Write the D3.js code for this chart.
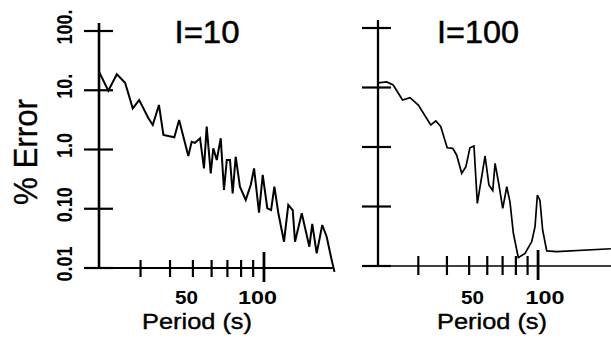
<!DOCTYPE html>
<html><head><meta charset="utf-8">
<script src="https://cdn.jsdelivr.net/npm/d3@7"></script>
<style>
html,body{margin:0;padding:0;background:#fff;}
svg{display:block;font-family:"Liberation Sans",Arial,Helvetica,sans-serif;}
</style></head>
<body>
<svg id="c" width="611" height="351"></svg>
<script>
// ---- data ----
const periodL = [20,21.9,23.8,25.8,27.8,29.6,32.4,33.8,35.9,37.5,41.7,43.7,47.8,49.4,51.0,53.6,55.7,57.2,59.5,61.0,63.1,65.6,67.7,69.6,71.8,73.7,75.9,79.1,83.7,87.9,90.8,95.3,98.8,103.3,107.2,110.7,115,121.6,126.8,132.4,135.4,144.6,155.7,160.2,167.3,176.6,184.4,193.6,199];
const errorL  = [20.6,9.8,18.6,13.4,4.96,6.84,3.36,2.59,5.64,1.76,1.61,3.15,0.776,1.35,1.29,1.55,0.48,2.43,0.396,1.05,0.665,1.55,0.207,0.665,0.665,0.182,0.755,0.236,0.141,0.252,0.48,0.0857,0.372,0.102,0.095,0.236,0.0857,0.0278,0.116,0.095,0.0278,0.0838,0.0229,0.0553,0.0177,0.0532,0.0337,0.0136,0.0086];
const periodR = [20,21.8,23.3,25.6,27.6,30.0,34.0,35.8,37.6,40.1,42.4,44.1,46.4,48.4,50.4,52.5,54.3,58.7,61.0,63.4,64.9,67.5,70.1,73.0,75.4,78.0,82.0,87.7,93.8,97.0,99.3,101.9,104.7,109.1,120.6,208];
const errorR  = [12.0,12.4,11.0,6.17,6.74,5.08,2.34,2.74,2.19,0.97,0.95,0.735,0.361,0.467,0.97,1.04,0.113,0.706,0.230,0.185,0.532,0.230,0.0933,0.215,0.120,0.0355,0.0138,0.0163,0.0256,0.0458,0.156,0.128,0.0403,0.0179,0.0174,0.0195];
const yTicks = [0.01,0.1,1,10,100];
const yTickLabels = ["0.01","0.10","1.0","10.","100."];
const xTicks = [30,40,50,60,70,80,90,100];
const xLabelTicks = [50,100];
const xTickLabels = ["50","100"];
const titles = ["I=10","I=100"];

const svg = d3.select("#c");

const panels = [
  {per:periodL, err:errorL, title:titles[0], xr:[99,335], yr:[268,31], axTop:23,
   baseL:85, baseR:333, yTickL:15, yTickR:14, minUp:8, minDn:9, majUp:16, majDn:14,
   axW:2.6, lineW:2, baseW:2, titleX:207, titleW:65, lblX:[186.5,257.5], periodX:197, showY:true},
  {per:periodR, err:errorR, title:titles[1], xr:[378,607], yr:[266,28], axTop:20,
   baseL:362, baseR:611, yTickL:16, yTickR:13, minUp:10, minDn:9, majUp:16, majDn:14,
   axW:2.3, lineW:1.7, baseW:1.7, titleX:478, titleW:82, lblX:[472.5,545], periodX:492, showY:false}
];

panels.forEach(p => {
  const x = d3.scaleLog().domain([20,200]).range(p.xr);
  const y = d3.scaleLog().domain([0.01,100]).range(p.yr);
  const g = svg.append("g");
  const x0 = x(20);

  // vertical axis
  g.append("line").attr("x1",x0).attr("x2",x0).attr("y1",p.axTop).attr("y2",y(0.01))
    .attr("stroke","#000").attr("stroke-width",p.axW);
  // y ticks
  g.selectAll(".yt").data(yTicks).enter().append("line")
    .attr("x1",x0-p.yTickL).attr("x2",x0+p.yTickR)
    .attr("y1",d=>y(d)).attr("y2",d=>y(d))
    .attr("stroke","#000").attr("stroke-width",2.2);
  // baseline
  g.append("line").attr("x1",p.baseL).attr("x2",p.baseR).attr("y1",y(0.01)).attr("y2",y(0.01))
    .attr("stroke","#000").attr("stroke-width",p.baseW);
  // x ticks
  g.selectAll(".xt").data(xTicks).enter().append("line")
    .attr("x1",d=>x(d)).attr("x2",d=>x(d))
    .attr("y1",d=>y(0.01)-(d===100?p.majUp:p.minUp))
    .attr("y2",d=>y(0.01)+(d===100?p.majDn:p.minDn))
    .attr("stroke","#000").attr("stroke-width",d=>d===100?2.8:2.2);

  // data line
  const line = d3.line().x((d,i)=>x(p.per[i])).y(d=>y(d));
  g.append("path").datum(p.err).attr("d",line)
    .attr("fill","none").attr("stroke","#000").attr("stroke-width",p.lineW)
    .attr("stroke-linejoin","miter").attr("stroke-miterlimit",3);

  // title
  g.append("text").attr("x",p.titleX).attr("y",43).attr("text-anchor","middle")
    .attr("font-size",31).attr("stroke","#000").attr("stroke-width",0.5)
    .attr("textLength",p.titleW).attr("lengthAdjust","spacingAndGlyphs").text(p.title);

  // x labels
  xTickLabels.forEach((t,i)=>{
    g.append("text").attr("x",p.lblX[i]).attr("y",304).attr("text-anchor","middle")
      .attr("font-size",19).attr("font-weight","bold")
      .attr("textLength", t.length===2?23:39).attr("lengthAdjust","spacingAndGlyphs").text(t);
  });
  g.append("text").attr("x",p.periodX).attr("y",329).attr("text-anchor","middle")
    .attr("font-size",22).attr("stroke","#000").attr("stroke-width",0.4)
    .attr("textLength",110).attr("lengthAdjust","spacingAndGlyphs")
    .text("Period (s)");

  if (p.showY) {
    yTicks.forEach((d,i)=>{
      const t = yTickLabels[i];
      g.append("text").attr("transform",`translate(72,${y(d)-4}) rotate(-90) scale(1,1.25)`)
        .attr("text-anchor","middle").attr("font-size",18).attr("font-weight","bold")
        .text(t);
    });
    g.append("text").attr("transform","translate(37,152) rotate(-90) scale(1,1.12)")
      .attr("text-anchor","middle").attr("font-size",29).attr("stroke","#000").attr("stroke-width",0.3)
      .attr("textLength",106).attr("lengthAdjust","spacingAndGlyphs").text("% Error");
  }
});
</script>
</body></html>
